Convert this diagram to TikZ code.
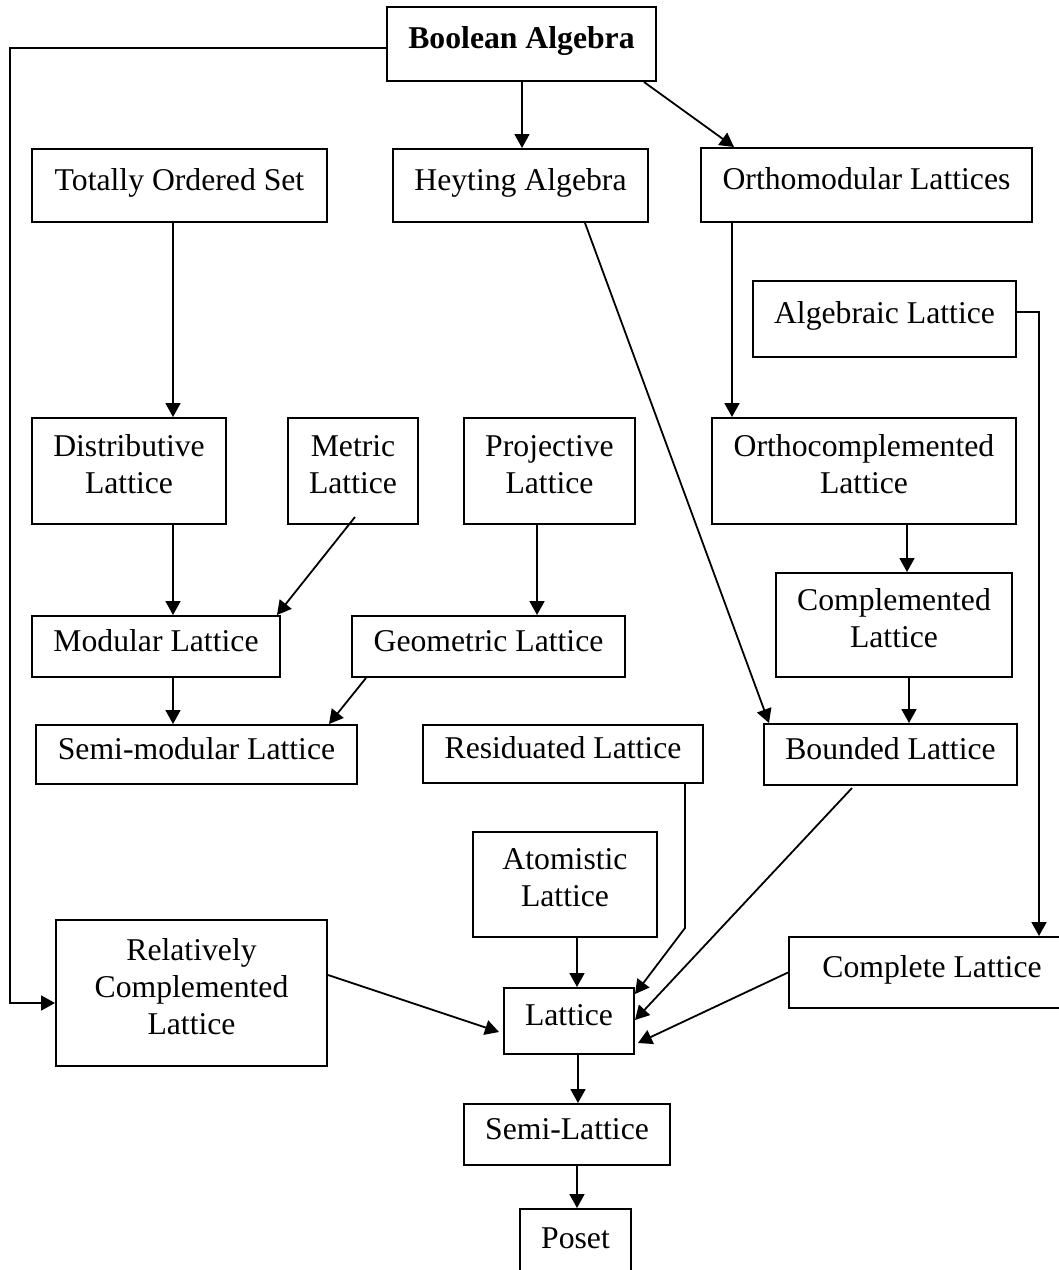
\documentclass[tikz,border=0pt]{standalone}
\usepackage{fontspec}
\setmainfont{Liberation Serif}
\usetikzlibrary{arrows.meta,calc}
\newcommand{\mystrut}{\rule[-7pt]{0pt}{18.5pt}}
\begin{document}
\begin{tikzpicture}[x=0.5pt,y=-0.5pt,
  box/.style={draw, line width=1pt, inner sep=0pt, align=center,
    font=\fontsize{15.85pt}{18.5pt}\selectfont,
    execute at begin node=\mystrut, execute at end node=\mystrut},
  sz/.style 2 args={minimum width=#1*0.5pt, minimum height=#2*0.5pt},
  arr/.style={line width=0.9pt, -{Triangle[length=7pt,width=7.5pt]}},
  ln/.style={line width=0.9pt}]
\useasboundingbox (0,0) rectangle (1059,1270);

\node[box, sz={269}{74}] (boolean) at (521.5,44) {\textbf{Boolean Algebra}};
\node[box, sz={295}{73}] (totally) at (179.5,185.5) {Totally Ordered Set};
\node[box, sz={255}{73}] (heyting) at (520.5,185.5) {Heyting Algebra};
\node[box, sz={331}{74}] (orthomod) at (866.5,185) {Orthomodular Lattices};
\node[box, sz={263}{76}] (algebraic) at (884.5,319) {Algebraic Lattice};
\node[box, sz={194}{106}] (distributive) at (129,471) {Distributive\\Lattice};
\node[box, sz={130}{106}] (metric) at (353,471) {Metric\\Lattice};
\node[box, sz={171}{106}] (projective) at (549.5,471) {Projective\\Lattice};
\node[box, sz={304}{106}] (orthocomp) at (864,471) {Orthocomplemented\\Lattice};
\node[box, sz={236}{104}] (complemented) at (894,625) {Complemented\\Lattice};
\node[box, sz={248}{61}] (modular) at (156,646.5) {Modular Lattice};
\node[box, sz={273}{61}] (geometric) at (488.5,646.5) {Geometric Lattice};
\node[box, sz={321}{59}] (semimod) at (196.5,754.5) {Semi-modular Lattice};
\node[box, sz={280}{58}] (residuated) at (563,754) {Residuated Lattice};
\node[box, sz={253}{61}] (bounded) at (890.5,754.5) {Bounded Lattice};
\node[box, sz={184}{105}] (atomistic) at (565,884.5) {Atomistic\\Lattice};
\node[box, sz={271}{146}] (relatively) at (191.5,993) {Relatively\\Complemented\\Lattice};
\node[box, sz={286}{71}] (complete) at (932,972.5) {Complete Lattice};
\node[box, sz={130}{66}] (lattice) at (569,1021) {Lattice};
\node[box, sz={206}{61}] (semilattice) at (567,1134.5) {Semi-Lattice};
\node[box, sz={111}{69}] (poset) at (575.5,1243.5) {Poset};

% helper coordinates for vertical connectors
\coordinate (xH) at ($(heyting.north)+(1.5,0)$);
\coordinate (xD) at ($(distributive.north)+(44,0)$);
\coordinate (xP) at ($(projective.south)+(-12.5,0)$);
\coordinate (xO) at ($(orthocomp.north west)+(21,0)$);
\coordinate (xC) at ($(orthocomp.south)+(43,0)$);
\coordinate (xB) at ($(complemented.south)+(15,0)$);
\coordinate (xA) at ($(atomistic.south)+(12,0)$);
\coordinate (xL) at ($(lattice.south)+(9,0)$);
\coordinate (xS) at ($(semilattice.south)+(10,0)$);

% Boolean Algebra connectors
\draw[arr] (xH |- boolean.south) -- (xH);
\draw[arr] ($(boolean.south east)+(-13,0)$) -- ($(orthomod.north west)+(34,0)$);
\draw[arr] ($(boolean.west)+(0,4)$) -| ($(relatively.west)+(-45,10)$) -- ($(relatively.west)+(0,10)$);

% left column
\draw[arr] (xD |- totally.south) -- (xD);
\draw[arr] (xD |- distributive.south) -- (xD |- modular.north);
\draw[arr] ($(metric.south)+(2,-8)$) -- ($(modular.north east)+(-4,0)$);
\draw[arr] (xD |- modular.south) -- (xD |- semimod.north);
\draw[arr] ($(geometric.south west)+(15,0)$) -- ($(semimod.north east)+(-29,0)$);
\draw[arr] (xP) -- (xP |- geometric.north);

% right column
\draw[arr] ($(heyting.south)+(64.5,0)$) -- ($(bounded.north west)+(6,0)$);
\draw[arr] (xO |- orthomod.south) -- (xO);
\draw[arr] (xC) -- (xC |- complemented.north);
\draw[arr] (xB) -- (xB |- bounded.north);
\draw[arr] ($(algebraic.east)+(0,-7)$) -| ($(complete.north west)+(251,0)$);

% into Lattice
\draw[arr] ($(residuated.south east)+(-19,0)$) -- ($(residuated.south east)+(-19,144)$) -- ($(lattice.north east)+(0,7)$);
\draw[arr] ($(bounded.south)+(-38.5,2)$) -- ($(lattice.east)+(0,-1)$);
\draw[arr] (complete.west) -- ($(lattice.south east)+(3,-12)$);
\draw[arr] (xA) -- (xA |- lattice.north);
\draw[arr] ($(relatively.east)+(0,-18)$) -- ($(lattice.west)+(-4,11)$);

% bottom chain
\draw[arr] (xL) -- (xL |- semilattice.north);
\draw[arr] (xS) -- (xS |- poset.north);
\end{tikzpicture}
\end{document}
